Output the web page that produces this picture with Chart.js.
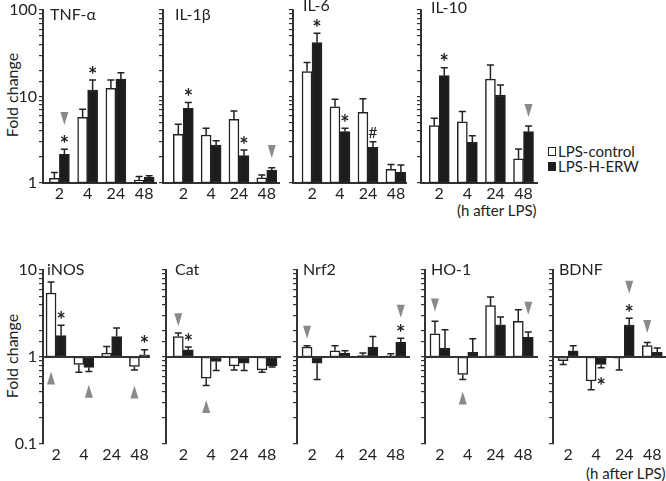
<!DOCTYPE html>
<html>
<head>
<meta charset="utf-8">
<script src="https://cdn.jsdelivr.net/npm/chart.js@4.4.0/dist/chart.umd.min.js"></script>
<style>
  body { margin: 0; background: #fff; width: 666px; height: 481px; position: relative; overflow: hidden;
         font-family: Lato, sans-serif; color: #222; }
  canvas { position: absolute; }
  .txt { position: absolute; white-space: nowrap; line-height: 20px; }
  .ylab { width: 120px; text-align: center; font-size: 16px; transform: rotate(-90deg); }
  .key { position: absolute; width: 6px; height: 7px; border: 1.5px solid #222; }
</style>
</head>
<body>
<div class="txt ylab" style="left:-48px; top:85px;">Fold change</div>
<div class="txt ylab" style="left:-48px; top:346px;">Fold change</div>
<div class="key" style="left:548px; top:147px; background:#fff;"></div>
<div class="txt" style="left:558px; top:141px; font-size:15px;">LPS-control</div>
<div class="key" style="left:548px; top:162px; background:#1c1c1c;"></div>
<div class="txt" style="left:558px; top:156px; font-size:15px;">LPS-H-ERW</div>
<div class="txt" style="left:457px; top:200px; font-size:15px;">(h after LPS)</div>
<div class="txt" style="left:586px; top:463px; font-size:15px;">(h after LPS)</div>

<script>
// hours after LPS, shared by all panels
const hours = ['2', '4', '24', '48'];

// cytokines (fold change, mean and SEM)
const tnfControl = [1.13, 5.75, 12.4, 1.08];
const tnfControlSem = [0.19, 1.35, 3.1, 0.11];
const tnfErw = [2.15, 11.9, 15.9, 1.16];
const tnfErwSem = [0.3, 3.6, 2.9, 0.05];

const il1bControl = [3.66, 3.59, 5.45, 1.15];
const il1bControlSem = [1.11, 0.7, 1.35, 0.09];
const il1bErw = [7.3, 2.75, 2.07, 1.41];
const il1bErwSem = [1.2, 0.33, 0.33, 0.09];

const il6Control = [19.4, 7.6, 6.56, 1.44];
const il6ControlSem = [5.4, 1.7, 2.84, 0.2];
const il6Erw = [41.9, 3.92, 2.58, 1.33];
const il6ErwSem = [11.9, 0.37, 0.42, 0.28];

const il10Control = [4.6, 5.1, 15.9, 1.9];
const il10ControlSem = [1.0, 1.6, 7.2, 0.57];
const il10Erw = [17.4, 2.95, 10.4, 3.92];
const il10ErwSem = [4.1, 0.57, 3.2, 0.64];

// enzymes / factors
const inosControl = [5.44, 0.82, 1.11, 0.78];
const inosControlSem = [1.86, 0.15, 0.21, 0.07];
const inosErw = [1.76, 0.76, 1.72, 1.06];
const inosErwSem = [0.55, 0.08, 0.43, 0.15];

const catControl = [1.72, 0.57, 0.79, 0.71];
const catControlSem = [0.17, 0.1, 0.08, 0.04];
const catErw = [1.21, 0.89, 0.85, 0.79];
const catErwSem = [0.09, 0.19, 0.15, 0.02];

const nrf2Control = [1.3, 1.18, 1.04, 1.03];
const nrf2ControlSem = [0.05, 0.17, 0.07, 0.06];
const nrf2Erw = [0.85, 1.11, 1.3, 1.47];
const nrf2ErwSem = [0.3, 0.07, 0.42, 0.17];

const ho1Control = [1.85, 0.63, 3.89, 2.57];
const ho1ControlSem = [0.72, 0.08, 1.0, 0.93];
const ho1Erw = [1.27, 1.13, 2.35, 1.68];
const ho1ErwSem = [0.79, 0.49, 0.53, 0.26];

const bdnfControl = [0.91, 0.53, 0.97, 1.35];
const bdnfControlSem = [0.09, 0.11, 0.26, 0.12];
const bdnfErw = [1.18, 0.82, 2.33, 1.13];
const bdnfErwSem = [0.17, 0.07, 0.45, 0.14];

// significance marks: [hour index, series (0 control, 1 H-ERW), symbol]
const tnfMarks = [[0, 1, '*'], [1, 1, '*']];
const il1bMarks = [[0, 1, '*'], [2, 1, '*']];
const il6Marks = [[0, 1, '*'], [1, 1, '*'], [2, 1, '#']];
const il10Marks = [[0, 1, '*']];
const inosMarks = [[0, 1, '*'], [3, 1, '*']];
const catMarks = [[0, 1, '*']];
const nrf2Marks = [[3, 1, '*']];
const ho1Marks = [];
const bdnfMarks = [[1, 1, '*'], [2, 1, '*']];

// grey arrowheads: [hour index, series, direction, tip value]
const tnfArrows = [[0, 1, 'down', 4.68]];
const il1bArrows = [[3, 1, 'down', 1.95]];
const il6Arrows = [];
const il10Arrows = [[3, 1, 'down', 5.8]];
const inosArrows = [[0, 0, 'up', 0.68], [1, 1, 'up', 0.48], [3, 0, 'up', 0.47]];
const catArrows = [[0, 0, 'down', 2.25], [1, 0, 'up', 0.32]];
const nrf2Arrows = [[0, 0, 'down', 1.62], [3, 1, 'down', 2.83]];
const ho1Arrows = [[0, 0, 'down', 3.34], [1, 0, 'up', 0.4], [3, 1, 'down', 3.06]];
const bdnfArrows = [[2, 1, 'down', 5.34], [3, 0, 'down', 1.89]];

const INK = '#222';
const AXIS = '#333';
const GREY = '#8a8a8a';
const YW = 44;   // room for y tick labels
const PR = 2;

const rows = [
  { top: 10, bottom: 183, min: 1, max: 100, pt: 10, xh: 30, labelPad: 1 },
  { top: 270, bottom: 444, min: 0.1, max: 10, pt: 12, xh: 30, labelPad: 1 }
];

const panels = [
  { title: 'TNF-\u03b1', row: 0, axisX: 43, endX: 156, xMin: -0.58, xMax: 3.42, tdx: 7, tdy: 10, showY: true,
    control: tnfControl, controlSem: tnfControlSem, erw: tnfErw, erwSem: tnfErwSem, marks: tnfMarks, arrows: tnfArrows },
  { title: 'IL-1\u03b2', row: 0, axisX: 163, endX: 279, xMin: -0.73, xMax: 3.44, tdx: 12, tdy: 10,
    control: il1bControl, controlSem: il1bControlSem, erw: il1bErw, erwSem: il1bErwSem, marks: il1bMarks, arrows: il1bArrows },
  { title: 'IL-6', row: 0, axisX: 293, endX: 406, xMin: -0.68, xMax: 3.36, tdx: 10, tdy: 1,
    control: il6Control, controlSem: il6ControlSem, erw: il6Erw, erwSem: il6ErwSem, marks: il6Marks, arrows: il6Arrows },
  { title: 'IL-10', row: 0, axisX: 421, endX: 537, xMin: -0.65, xMax: 3.48, tdx: 10, tdy: 3,
    control: il10Control, controlSem: il10ControlSem, erw: il10Erw, erwSem: il10ErwSem, marks: il10Marks, arrows: il10Arrows },
  { title: 'iNOS', row: 1, axisX: 43, endX: 150, xMin: -0.47, xMax: 3.38, tdx: 4, tdy: 5, showY: true,
    control: inosControl, controlSem: inosControlSem, erw: inosErw, erwSem: inosErwSem, marks: inosMarks, arrows: inosArrows },
  { title: 'Cat', row: 1, axisX: 166, endX: 281, xMin: -0.62, xMax: 3.5, tdx: 9, tdy: 5,
    control: catControl, controlSem: catControlSem, erw: catErw, erwSem: catErwSem, marks: catMarks, arrows: catArrows },
  { title: 'Nrf2', row: 1, axisX: 297, endX: 410, xMin: -0.54, xMax: 3.51, tdx: 6, tdy: 5,
    control: nrf2Control, controlSem: nrf2ControlSem, erw: nrf2Erw, erwSem: nrf2ErwSem, marks: nrf2Marks, arrows: nrf2Arrows },
  { title: 'HO-1', row: 1, axisX: 425, endX: 538, xMin: -0.54, xMax: 3.53, tdx: 6, tdy: 5,
    control: ho1Control, controlSem: ho1ControlSem, erw: ho1Erw, erwSem: ho1ErwSem, marks: ho1Marks, arrows: ho1Arrows },
  { title: 'BDNF', row: 1, axisX: 553, endX: 666, xMin: -0.54, xMax: 3.49, tdx: 6, tdy: 5,
    control: bdnfControl, controlSem: bdnfControlSem, erw: bdnfErw, erwSem: bdnfErwSem, marks: bdnfMarks, arrows: bdnfArrows }
];

// Error bars, the line at 1, stars, arrowheads and the panel title
const marksPlugin = {
  id: 'marks',
  afterDatasetsDraw(chart, args, opts) {
    const p = opts.panel;
    const ctx = chart.ctx;
    const ys = chart.scales.y;
    const area = chart.chartArea;
    const series = [[p.control, p.controlSem], [p.erw, p.erwSem]];
    const errEnd = (d, i) => {
      const v = series[d][0][i], s = series[d][1][i];
      return v >= 1 ? v + s : v - s;
    };
    ctx.save();

    ctx.strokeStyle = INK;
    ctx.lineWidth = 1.5;
    series.forEach(([vals], d) => {
      const meta = chart.getDatasetMeta(d);
      vals.forEach((v, i) => {
        const x = meta.data[i].x;
        const y0 = ys.getPixelForValue(v);
        const y1 = ys.getPixelForValue(errEnd(d, i));
        ctx.beginPath();
        ctx.moveTo(x, y0);
        ctx.lineTo(x, y1);
        ctx.moveTo(x - 3.5, y1);
        ctx.lineTo(x + 3.5, y1);
        ctx.stroke();
      });
    });

    if (p.row === 1) {
      const y1 = Math.round(ys.getPixelForValue(1));
      ctx.strokeStyle = AXIS;
      ctx.lineWidth = 2;
      ctx.beginPath();
      ctx.moveTo(area.left, y1);
      ctx.lineTo(area.right, y1);
      ctx.stroke();
    }

    ctx.fillStyle = INK;
    ctx.textAlign = 'center';
    ctx.textBaseline = 'alphabetic';
    p.marks.forEach(([i, d, sym]) => {
      const x = chart.getDatasetMeta(d).data[i].x;
      const end = errEnd(d, i);
      const ye = ys.getPixelForValue(end);
      const up = series[d][0][i] >= 1;
      const cy = up ? ye - 10 : ye + 14;
      if (sym === '*') {
        ctx.font = 'bold 22px Lato';
        ctx.fillText('*', x, cy + 12.5);
      } else {
        ctx.font = '16px Lato';
        ctx.fillText(sym, x, cy + 6);
      }
    });

    ctx.fillStyle = GREY;
    p.arrows.forEach(([i, d, dir, tip]) => {
      const x = chart.getDatasetMeta(d).data[i].x;
      const ty = ys.getPixelForValue(tip);
      const by = dir === 'down' ? ty - 13 : ty + 13;
      ctx.beginPath();
      ctx.moveTo(x, ty);
      ctx.lineTo(x - 4, by);
      ctx.lineTo(x + 4, by);
      ctx.closePath();
      ctx.fill();
    });

    ctx.fillStyle = INK;
    ctx.textAlign = 'left';
    ctx.font = '16px Lato';
    ctx.fillText(p.title, area.left + p.tdx, area.top + p.tdy);
    ctx.restore();
  }
};

function isDecade(v) {
  const l = Math.log10(v);
  return Math.abs(l - Math.round(l)) < 1e-6;
}

function buildPanel(p) {
  const r = rows[p.row];
  const w = YW + (p.endX - p.axisX) + PR;
  const h = r.pt + (r.bottom - r.top) + r.xh;
  const canvas = document.createElement('canvas');
  canvas.width = w;
  canvas.height = h;
  canvas.style.left = (p.axisX - YW) + 'px';
  canvas.style.top = (r.top - r.pt) + 'px';
  document.body.appendChild(canvas);

  const bars = (vals) => vals.map((v, i) => ({ x: i, y: [1, v] }));

  return new Chart(canvas, {
    type: 'bar',
    data: {
      datasets: [
        { label: 'LPS-control', data: bars(p.control), backgroundColor: '#fff', borderColor: INK },
        { label: 'LPS-H-ERW', data: bars(p.erw), backgroundColor: '#1c1c1c', borderColor: INK }
      ]
    },
    options: {
      responsive: false,
      animation: false,
      devicePixelRatio: 1,
      layout: { padding: { top: r.pt, right: PR, left: 0, bottom: 0 } },
      datasets: { bar: { barThickness: 10, borderWidth: 1.5, borderSkipped: false, grouped: true } },
      plugins: { legend: { display: false }, tooltip: { enabled: false }, marks: { panel: p } },
      scales: {
        x: {
          type: 'linear',
          min: p.xMin,
          max: p.xMax,
          offset: false,
          afterBuildTicks: (s) => { s.ticks = hours.map((hh, i) => ({ value: i })); },
          afterFit: (s) => { s.height = r.xh; s.paddingLeft = 0; s.paddingRight = 0; },
          ticks: { autoSkip: false, maxRotation: 0, padding: r.labelPad, color: INK,
                   font: { family: 'Lato', size: 16 }, callback: (v) => hours[v] },
          grid: { display: false, drawTicks: false, offset: false },
          border: { display: p.row === 0, color: AXIS, width: 2 }
        },
        y: {
          type: 'logarithmic',
          min: r.min,
          max: r.max,
          afterFit: (s) => { s.width = YW; s.paddingTop = 0; s.paddingBottom = 0; },
          ticks: { autoSkip: false, padding: 2, color: INK, font: { family: 'Lato', size: 16 },
                   callback: (v) => (p.showY && isDecade(v)) ? String(v) : '' },
          grid: { drawOnChartArea: false, drawTicks: true, tickLength: 4, color: AXIS, lineWidth: 1.2 },
          border: { display: true, color: AXIS, width: 2 }
        }
      }
    },
    plugins: [marksPlugin]
  });
}

panels.forEach(buildPanel);
</script>
</body>
</html>
